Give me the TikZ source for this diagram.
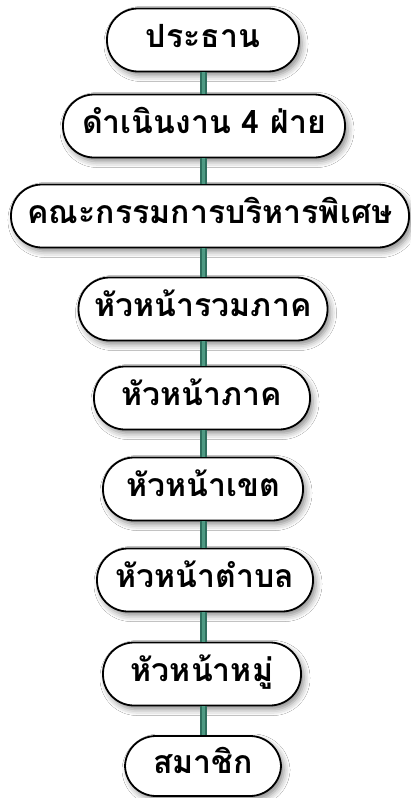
\documentclass[tikz,border=0pt]{standalone}
\usepackage{fontspec}
\setmainfont[Script=Thai]{Loma}
\usetikzlibrary{shadows.blur}
\definecolor{connout}{HTML}{2F6F5E}
\definecolor{connin}{HTML}{4E9A83}
\tikzset{
  box/.style={draw=black, line width=1.8pt, fill=white, rounded corners=31pt,
    minimum height=63pt, inner sep=0pt, font=\fontsize{32}{34}\selectfont\bfseries,
    text height=22pt, text depth=7pt,
    blur shadow={shadow xshift=3pt, shadow yshift=-4pt, shadow blur radius=6pt, shadow opacity=45}},
  conn/.style={draw=connout, line width=2pt, double=connin, double distance=3pt}
}
\begin{document}
\begin{tikzpicture}[x=1pt,y=1pt]
\useasboundingbox[fill=white] (0,0) rectangle (410,-798);
\node[box, minimum width=192pt] (n1) at (203,-40) {ประธาน};
\node[box, minimum width=282pt] (n2) at (204,-126) {ดำเนินงาน 4 ฝ่าย};
\node[box, minimum width=398pt] (n3) at (210,-216) {คณะกรรมการบริหารพิเศษ};
\node[box, minimum width=249pt] (n4) at (203,-309) {หัวหน้ารวมภาค};
\node[box, minimum width=216pt] (n5) at (202,-398) {หัวหน้าภาค};
\node[box, minimum width=200pt] (n6) at (203,-489) {หัวหน้าเขต};
\node[box, minimum width=216pt] (n7) at (205,-580) {หัวหน้าตำบล};
\node[box, minimum width=198pt] (n8) at (202,-674) {หัวหน้าหมู่};
\node[box, minimum width=156pt, minimum height=60pt] (n9) at (203,-766) {สมาชิก};
\foreach \a/\b in {n1/n2,n2/n3,n3/n4,n4/n5,n5/n6,n6/n7,n7/n8,n8/n9}{
  \draw[conn] (\a.south -| n1.center) -- (\b.north -| n1.center);
}
\end{tikzpicture}
\end{document}
